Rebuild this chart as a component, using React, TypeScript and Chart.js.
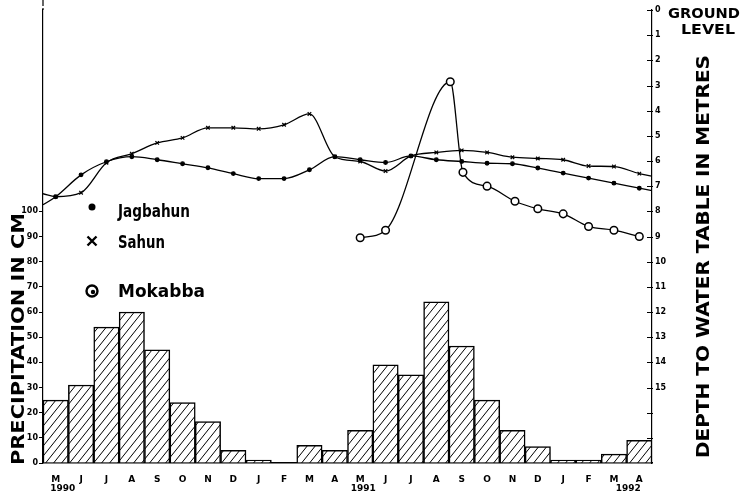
import { useEffect, useRef } from 'react';
import { Chart, registerables } from 'chart.js';

Chart.register(...registerables);

// ---- data ----
const monthLabels = ['M', 'J', 'J', 'A', 'S', 'O', 'N', 'D', 'J', 'F', 'M', 'A', 'M', 'J', 'J', 'A', 'S', 'O', 'N', 'D', 'J', 'F', 'M', 'A'];
const yearLabels = [
  { index: 0, text: '1990' },
  { index: 12, text: '1991' },
  { index: 23, text: '1992' },
];
// monthly precipitation, cm (May 1990 – Apr 1992)
const precipitationCm = [25, 31, 54, 60, 45, 24, 16.5, 5, 1.2, 0, 7, 5, 13, 39, 35, 64, 46.5, 25, 13, 6.5, 1.2, 1.2, 3.5, 9];
const precipTickValues = [0, 10, 20, 30, 40, 50, 60, 70, 80, 90, 100];
const depthTickValues = [0, 1, 2, 3, 4, 5, 6, 7, 8, 9, 10, 11, 12, 13, 14, 15, 16, 17];
const depthLabelMax = 15;

// month index positions for the Jagbahun / Sahun records (edge-to-edge)
const lineMonthIndex = [-0.5, 0, 1, 2, 3, 4, 5, 6, 7, 8, 9, 10, 11, 12, 13, 14, 15, 16, 17, 18, 19, 20, 21, 22, 23, 23.5];
const jagbahunDepth = [7.74, 7.42, 6.55, 6.03, 5.83, 5.95, 6.11, 6.27, 6.5, 6.7, 6.7, 6.35, 5.83, 5.95, 6.06, 5.8, 5.95, 6.02, 6.09, 6.11, 6.28, 6.48, 6.68, 6.88, 7.08, 7.18];
const sahunDepth = [7.3, 7.42, 7.26, 6.07, 5.71, 5.28, 5.08, 4.68, 4.68, 4.72, 4.56, 4.13, 5.83, 6.02, 6.4, 5.8, 5.66, 5.58, 5.66, 5.85, 5.9, 5.95, 6.2, 6.22, 6.5, 6.6];
const mokabbaMonthIndex = [12, 13, 15.55, 16.05, 17, 18.1, 19, 20, 21, 22, 23];
const mokabbaDepth = [9.05, 8.75, 2.85, 6.45, 7.0, 7.6, 7.9, 8.1, 8.6, 8.75, 9.0];

const FONT = '"DejaVu Sans", "Liberation Sans", sans-serif';

function makeHatch(): any {
  const c = document.createElement('canvas');
  const w = 8, h = 10;
  c.width = w; c.height = h;
  const g = c.getContext('2d')!;
  g.fillStyle = '#fff';
  g.fillRect(0, 0, w, h);
  g.strokeStyle = '#000';
  g.lineWidth = 1;
  g.beginPath();
  g.moveTo(0, h); g.lineTo(w, 0);
  g.moveTo(-w, h); g.lineTo(0, 0);
  g.moveTo(w, h); g.lineTo(2 * w, 0);
  g.stroke();
  return g.createPattern(c, 'repeat');
}

function fitText(ctx: any, text: string, x: number, y: number, target: number, sizePx: number, rotate: boolean) {
  ctx.save();
  ctx.font = `bold ${sizePx}px ${FONT}`;
  ctx.translate(x, y);
  if (rotate) ctx.rotate(-Math.PI / 2);
  const w = ctx.measureText(text).width;
  ctx.scale(target / w, 1);
  ctx.textAlign = 'left';
  ctx.textBaseline = 'middle';
  ctx.fillStyle = '#000';
  ctx.fillText(text, 0, 0);
  ctx.restore();
}

const overlayPlugin = {
  id: 'overlay',
  afterDraw(chart: any) {
    const ctx = chart.ctx;
    const area = chart.chartArea;
    const yD = chart.scales.yD;
    const x = chart.scales.x;
    ctx.save();
    ctx.strokeStyle = '#000';
    ctx.fillStyle = '#000';
    // inward tick marks on the depth axis
    ctx.lineWidth = 1;
    for (const v of depthTickValues) {
      const py = Math.round(yD.getPixelForValue(v)) + 0.5;
      ctx.beginPath();
      ctx.moveTo(area.right - 5, py);
      ctx.lineTo(area.right + 1, py);
      ctx.stroke();
    }
    // dashed continuation of the precipitation axis to the top edge
    ctx.lineWidth = 1.2;
    ctx.setLineDash([6, 2]);
    ctx.beginPath();
    ctx.moveTo(area.left, 0);
    ctx.lineTo(area.left, area.top);
    ctx.stroke();
    ctx.setLineDash([]);
    // years under month labels
    ctx.font = `bold 9px ${FONT}`;
    ctx.textAlign = 'center';
    ctx.textBaseline = 'middle';
    for (const yl of yearLabels) {
      const px = x.getPixelForValue(yl.index) + (yl.index === 0 ? 7 : yl.index === 23 ? -11 : 3);
      ctx.fillText(yl.text, px, 489);
    }
    ctx.restore();

    // axis titles
    fitText(ctx, 'PRECIPITATION IN CM', 20, 465, 252, 17, true);
    fitText(ctx, 'DEPTH TO WATER TABLE IN METRES', 705, 458, 403, 17, true);
    fitText(ctx, 'GROUND', 668, 14, 72, 14, false);
    fitText(ctx, 'LEVEL', 681, 30, 54, 14, false);

    // legend
    ctx.save();
    ctx.fillStyle = '#000';
    ctx.strokeStyle = '#000';
    ctx.beginPath();
    ctx.arc(92, 207, 3.5, 0, Math.PI * 2);
    ctx.fill();
    ctx.lineWidth = 2.4;
    ctx.beginPath();
    ctx.moveTo(87.5, 236.5); ctx.lineTo(96.5, 245.5);
    ctx.moveTo(96.5, 236.5); ctx.lineTo(87.5, 245.5);
    ctx.stroke();
    ctx.beginPath();
    ctx.arc(92, 291, 5.5, 0, Math.PI * 2);
    ctx.stroke();
    ctx.beginPath();
    ctx.arc(93, 292, 2.2, 0, Math.PI * 2);
    ctx.fill();
    ctx.restore();
    fitText(ctx, 'Jagbahun', 118, 212, 72, 18, false);
    fitText(ctx, 'Sahun', 118, 243, 47, 18, false);
    fitText(ctx, 'Mokabba', 118, 292, 87, 18, false);
  },
};

export default function App() {
  const ref = useRef<HTMLCanvasElement>(null);
  useEffect(() => {
    const hatch = makeHatch();
    const chart = new Chart(ref.current!, {
      type: 'bar',
      data: {
        datasets: [
          {
            type: 'line',
            label: 'Jagbahun',
            data: lineMonthIndex.map((m, i) => ({ x: m, y: jagbahunDepth[i] })),
            yAxisID: 'yD',
            borderColor: '#000',
            borderWidth: 1.3,
            pointStyle: 'circle',
            pointRadius: lineMonthIndex.map((m) => (m % 1 === 0 ? 1.8 : 0)),
            pointBackgroundColor: '#000',
            pointBorderColor: '#000',
            cubicInterpolationMode: 'monotone',
            fill: false,
            order: 1,
          } as any,
          {
            type: 'line',
            label: 'Sahun',
            data: lineMonthIndex.map((m, i) => ({ x: m, y: sahunDepth[i] })),
            yAxisID: 'yD',
            borderColor: '#000',
            borderWidth: 1.3,
            pointStyle: 'crossRot',
            pointRadius: lineMonthIndex.map((m) => (m % 1 === 0 ? 2.5 : 0)),
            pointBorderColor: '#000',
            pointBorderWidth: 1.2,
            cubicInterpolationMode: 'monotone',
            fill: false,
            order: 1,
          } as any,
          {
            type: 'line',
            label: 'Mokabba',
            data: mokabbaMonthIndex.map((m, i) => ({ x: m, y: mokabbaDepth[i] })),
            yAxisID: 'yD',
            borderColor: '#000',
            borderWidth: 1.3,
            pointStyle: 'circle',
            pointRadius: 3.8,
            pointBackgroundColor: '#fff',
            pointBorderColor: '#000',
            pointBorderWidth: 1.5,
            cubicInterpolationMode: 'monotone',
            fill: false,
            order: 1,
          } as any,
          {
            type: 'bar',
            label: 'Precipitation',
            data: precipitationCm.map((v, i) => ({ x: i, y: v })),
            yAxisID: 'yP',
            backgroundColor: hatch,
            borderColor: '#000',
            borderWidth: 1.5,
            barPercentage: 1,
            categoryPercentage: 1,
            order: 10,
          } as any,
        ],
      },
      options: {
        responsive: false,
        animation: false,
        layout: { padding: { top: 10, left: 0, right: 0, bottom: 0 } },
        plugins: { legend: { display: false }, tooltip: { enabled: false } },
        scales: {
          x: {
            type: 'linear',
            offset: false,
            min: -0.5,
            max: 23.5,
            position: 'bottom',
            afterBuildTicks: (s: any) => {
              s.ticks = monthLabels.map((_, i) => ({ value: i }));
            },
            ticks: {
              callback: (v: any) => monthLabels[v] ?? '',
              font: { family: FONT, size: 9, weight: 'bold' },
              color: '#000',
              padding: 3,
              maxRotation: 0,
              autoSkip: false,
            },
            grid: { display: false },
            border: { display: true, color: '#000', width: 1.5 },
            afterFit: (s: any) => {
              s.height = 31;
            },
          },
          yP: {
            type: 'linear',
            position: 'left',
            min: 0,
            max: 180,
            afterBuildTicks: (s: any) => {
              s.ticks = precipTickValues.map((v) => ({ value: v }));
            },
            ticks: {
              callback: (v: any) => String(v),
              font: { family: FONT, size: 8, weight: 'bold' },
              color: '#000',
              padding: 1,
            },
            grid: { drawOnChartArea: false, tickLength: 4, color: '#000', lineWidth: 1 },
            border: { display: true, color: '#000', width: 1.2, dash: [6, 2] },
            afterFit: (s: any) => {
              s.width = 43;
            },
          },
          yD: {
            type: 'linear',
            position: 'right',
            reverse: true,
            min: 0,
            max: 18,
            afterBuildTicks: (s: any) => {
              s.ticks = depthTickValues.map((v) => ({ value: v }));
            },
            ticks: {
              callback: (v: any) => (v <= depthLabelMax ? String(v) : ''),
              font: { family: FONT, size: 8, weight: 'bold' },
              color: '#000',
              padding: 3,
            },
            grid: { drawOnChartArea: false, drawTicks: false },
            border: { display: true, color: '#000', width: 1.2 },
            afterFit: (s: any) => {
              s.width = 93;
            },
          },
        },
      },
      plugins: [overlayPlugin],
    } as any);
    return () => chart.destroy();
  }, []);
  return (
    <div style={{ position: 'fixed', left: 0, top: 0, width: 745, height: 494, background: '#fff' }}>
      <canvas ref={ref} width={745} height={494} style={{ width: 745, height: 494, display: 'block' }} />
    </div>
  );
}
